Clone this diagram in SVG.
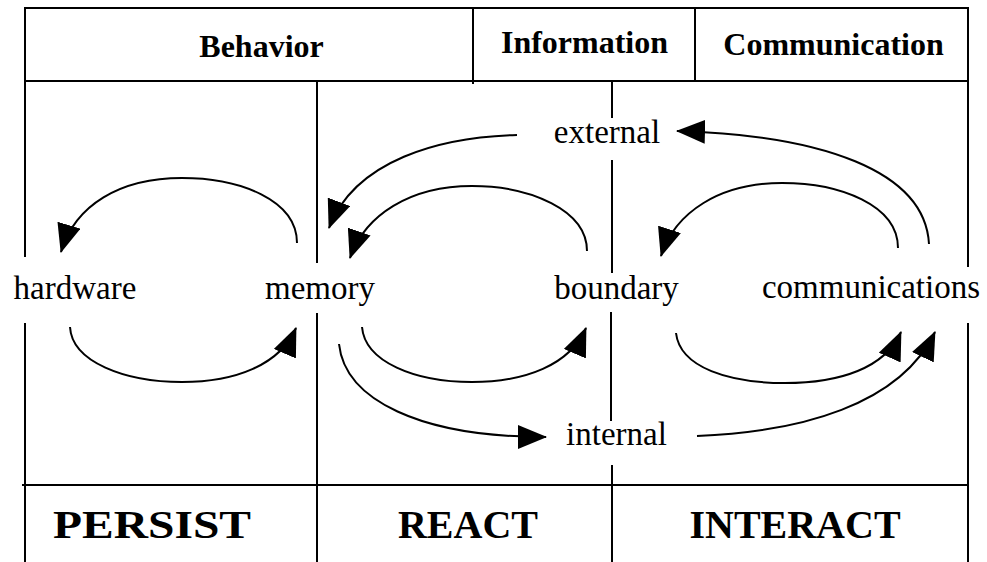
<svg xmlns="http://www.w3.org/2000/svg" width="987" height="562" viewBox="0 0 987 562">
<style>
.frame{stroke:#000;stroke-width:2;fill:none}
.conn{stroke:#000;stroke-width:2;fill:none;marker-end:url(#ah)}
.lbl{font-family:"Liberation Serif","Times New Roman",serif;font-size:33px;fill:#000;text-anchor:middle}
.hdr{font-family:"Liberation Serif","Times New Roman",serif;font-size:32px;font-weight:bold;fill:#000;text-anchor:middle}
.ftr{font-family:"Liberation Serif","Times New Roman",serif;font-size:40px;font-weight:bold;fill:#000;text-anchor:middle}
</style>
<defs>
<marker id="ah" markerUnits="userSpaceOnUse" markerWidth="29" markerHeight="24" refX="28" refY="12" orient="auto">
<path d="M0,0 L29,12 L0,24 Z" fill="#000"/>
</marker>
</defs>
<rect width="987" height="562" fill="#fff"/>
<g id="frame">
<line class="frame" x1="25" y1="8" x2="969" y2="8"/>
<line class="frame" x1="25" y1="81" x2="969" y2="81"/>
<line class="frame" x1="22" y1="485" x2="969" y2="485"/>
<line class="frame" x1="473" y1="8" x2="473" y2="84"/>
<line class="frame" x1="695" y1="8" x2="695" y2="81"/>
<line class="frame" x1="25" y1="7" x2="25" y2="257"/>
<line class="frame" x1="25" y1="323" x2="25" y2="562"/>
<line class="frame" x1="968" y1="7" x2="968" y2="267"/>
<line class="frame" x1="968" y1="323" x2="968" y2="562"/>
<line class="frame" x1="317" y1="81" x2="317" y2="263"/>
<line class="frame" x1="317" y1="313" x2="317" y2="562"/>
<line class="frame" x1="612" y1="81" x2="612" y2="118"/>
<line class="frame" x1="612" y1="160" x2="612" y2="273"/>
<line class="frame" x1="611" y1="312" x2="611" y2="421"/>
<line class="frame" x1="612" y1="465" x2="612" y2="562"/>
</g>
<g id="headers">
<text class="hdr" x="261.5" y="57">Behavior</text>
<text class="hdr" x="584.5" y="53">Information</text>
<text class="hdr" x="833.5" y="55">Communication</text>
</g>
<g id="node-hardware"><text class="lbl" x="75" y="299">hardware</text></g>
<g id="node-memory"><text class="lbl" x="320" y="299">memory</text></g>
<g id="node-boundary"><text class="lbl" x="616.5" y="299">boundary</text></g>
<g id="node-communications"><text class="lbl" x="871" y="298">communications</text></g>
<g id="node-external"><text class="lbl" x="607" y="143">external</text></g>
<g id="node-internal"><text class="lbl" x="616.5" y="445">internal</text></g>
<g id="footers">
<text class="ftr" x="152" y="538" textLength="198" lengthAdjust="spacingAndGlyphs">PERSIST</text>
<text class="ftr" x="468" y="538">REACT</text>
<text class="ftr" x="795" y="538">INTERACT</text>
</g>
<g id="connectors">
<path class="conn" d="M297,243 C297,200 240,178 182,178 C120,178 75,205 61,252"/>
<path class="conn" d="M70,327 C72,362 125,382 182,382 C235,382 280,365 296,328"/>
<path class="conn" d="M587,251 C587,210 530,186 472,186 C410,186 365,215 350,258"/>
<path class="conn" d="M517,135 C440,137 355,160 329,228"/>
<path class="conn" d="M362,327 C365,362 415,382 472,382 C525,382 570,365 586,328"/>
<path class="conn" d="M339,344 C345,400 420,437 546,437"/>
<path class="conn" d="M697,436 C800,432 900,405 935,332"/>
<path class="conn" d="M898,248 C898,205 840,183 782,183 C720,183 675,212 661,256"/>
<path class="conn" d="M676,333 C680,368 730,383 785,383 C840,383 885,368 901,332"/>
<path class="conn" d="M929,244 C925,170 820,135 677,131"/>
</g>
</svg>
